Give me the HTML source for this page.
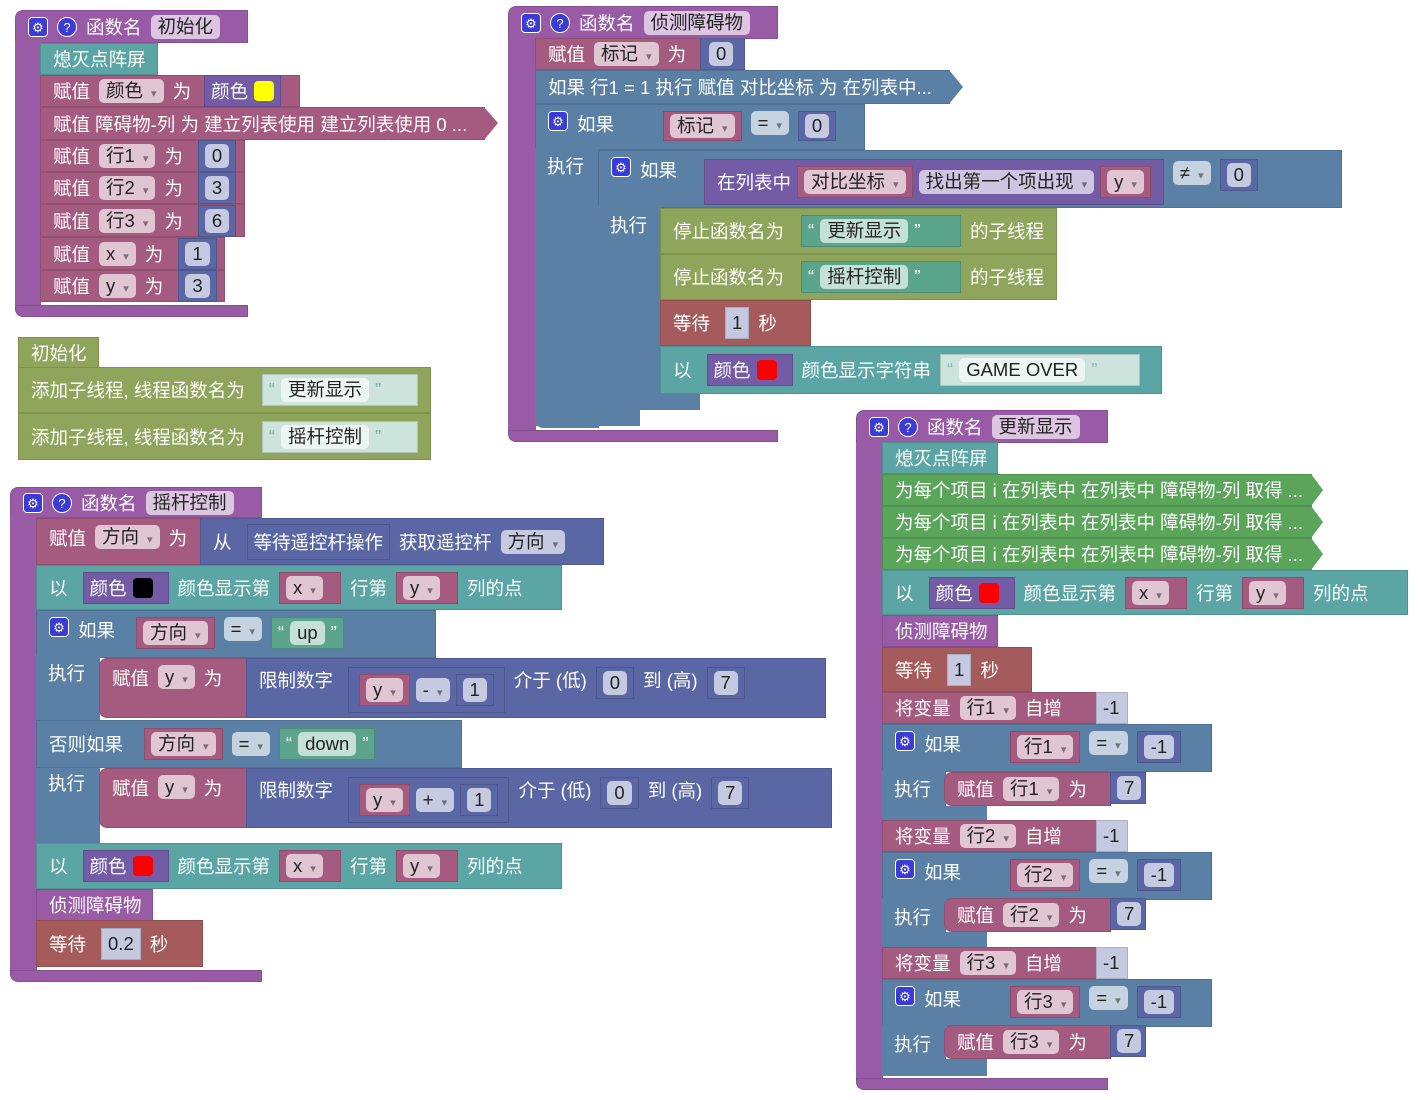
<!DOCTYPE html>
<html><head><meta charset="utf-8"><style>
body{margin:0;width:1418px;height:1100px;background:#fff;position:relative;overflow:hidden;font-family:"Liberation Sans","Noto Sans CJK SC",sans-serif}
.r{position:absolute;display:flex;align-items:center;padding-left:12px;box-sizing:border-box;white-space:nowrap;color:#fff;font-size:18.5px;gap:9px;border:1px solid rgba(0,0,0,.12)}
.t{align-items:flex-start;padding-top:6px}
.v{display:inline-flex;align-items:center;height:32px;padding:0 6px;gap:6px;color:#fff;border:1px solid rgba(0,0,0,.15);box-sizing:border-box}
.f{background:rgba(255,255,255,.65);color:#222;border-radius:5px;padding:0 7px;height:24px;line-height:24px;display:inline-block}
.d::after{content:"\25BE";font-size:11px;color:rgba(0,0,0,.45);margin-left:8px}
.ic{display:inline-block;width:20px;height:20px;border-radius:4px;background:#3b3bd6;border:1px solid #fff;color:#fff;font-size:13px;text-align:center;line-height:20px;box-sizing:border-box}
.q{border-radius:50%}
.sw{display:inline-block;width:20px;height:20px;border-radius:4px}
.P{background:#995ba5}.V{background:#a55b80}.N{background:#5b67a5}.T{background:#5ba5a5}.C{background:#5b80a5}.G{background:#8fa55b}.S{background:#5ba58c}.W{background:#a55b5b}.L{background:#5ba55b}.K{background:#745ba5}
.sh{background:#c4c9e0;color:#222}
</style></head><body>

<!-- Block 1 初始化 -->
<div class="r P" style="left:15px;top:10px;width:233px;height:33px;border-radius:8px 0 0 0"><span class="ic">⚙</span><span class="ic q">?</span> 函数名 <span class="f">初始化</span></div>
<div class="r P" style="left:15px;top:42px;width:26px;height:265px;border:none"></div>
<div class="r P" style="left:15px;top:305px;width:233px;height:12px;border-radius:0 0 0 8px"></div>
<div class="r T" style="left:40px;top:43px;width:118px;height:32px">熄灭点阵屏</div>
<div class="r V" style="left:40px;top:75px;width:260px;height:32px">赋值 <span class="f d">颜色</span> 为 <span class="v K" style="margin-left:4px;height:32px">颜色 <span class="sw" style="background:#ff0"></span></span></div>
<div class="r V" style="left:40px;top:107px;width:445px;height:33px">赋值 障碍物-列 为 建立列表使用 建立列表使用 0 ...</div>
<div style="position:absolute;left:484px;top:107px;width:0;height:0;border-top:16px solid transparent;border-bottom:17px solid transparent;border-left:14px solid #a55b80"></div>
<div class="r V" style="left:40px;top:140px;width:205px;height:32px">赋值 <span class="f d">行1</span> 为 <span class="v N" style="margin-left:6px"><span class="f">0</span></span></div>
<div class="r V" style="left:40px;top:172px;width:205px;height:32px">赋值 <span class="f d">行2</span> 为 <span class="v N" style="margin-left:6px"><span class="f">3</span></span></div>
<div class="r V" style="left:40px;top:204px;width:205px;height:33px">赋值 <span class="f d">行3</span> 为 <span class="v N" style="margin-left:6px"><span class="f">6</span></span></div>
<div class="r V" style="left:40px;top:237px;width:185px;height:33px">赋值 <span class="f d">x</span> 为 <span class="v N" style="margin-left:6px"><span class="f">1</span></span></div>
<div class="r V" style="left:40px;top:270px;width:185px;height:32px">赋值 <span class="f d">y</span> 为 <span class="v N" style="margin-left:6px"><span class="f">3</span></span></div>

<!-- Block 2 -->
<div class="r G" style="left:18px;top:337px;width:81px;height:31px">初始化</div>
<div class="r G" style="left:18px;top:367px;width:413px;height:46px">添加子线程, 线程函数名为 <span class="v S" style="background:#cde4dc;color:#7aa;margin-left:8px;width:156px">“ <span class="f">更新显示</span> ”</span></div>
<div class="r G" style="left:18px;top:413px;width:413px;height:47px">添加子线程, 线程函数名为 <span class="v S" style="background:#cde4dc;color:#7aa;margin-left:8px;width:156px">“ <span class="f">摇杆控制</span> ”</span></div>

<!-- Block 3 摇杆控制 -->
<div class="r P" style="left:10px;top:487px;width:252px;height:31px;border-radius:8px 0 0 0"><span class="ic">⚙</span><span class="ic q">?</span> 函数名 <span class="f">摇杆控制</span></div>
<div class="r P" style="left:10px;top:517px;width:27px;height:455px;border:none"></div>
<div class="r P" style="left:10px;top:970px;width:252px;height:12px;border-radius:0 0 0 8px"></div>
<div class="r V t" style="left:36px;top:518px;width:165px;height:47px">赋值 <span class="f d">方向</span> 为</div>
<div class="r N" style="left:200px;top:518px;width:404px;height:47px">从 <span class="v N" style="margin-left:6px;height:36px">等待遥控杆操作</span> 获取遥控杆 <span class="f d">方向</span></div>
<div class="r T" style="left:36px;top:565px;width:526px;height:45px">以 <span class="v K" style="margin-left:6px;width:86px">颜色 <span class="sw" style="background:#000"></span></span> 颜色显示第 <span class="v V" style="width:62px"><span class="f d">x</span></span> 行第 <span class="v V" style="width:62px"><span class="f d">y</span></span> 列的点</div>
<div class="r C t" style="left:36px;top:610px;width:400px;height:48px"><span class="ic">⚙</span> 如果 <span class="v V" style="margin-left:12px"><span class="f d">方向</span></span><span class="f d">=</span><span class="v S">“ <span class="f">up</span> ”</span></div>
<div class="r C" style="left:36px;top:655px;width:64px;height:190px;border:none"></div>
<div style="position:absolute;left:48px;top:660px;color:#fff;font-size:18.5px">执行</div>
<div class="r V t" style="left:99px;top:658px;width:148px;height:60px;border-radius:8px 0 0 8px">赋值 <span class="f d">y</span> 为</div>
<div class="r N" style="left:246px;top:658px;width:580px;height:60px;align-items:flex-start;padding-top:8px">限制数字 <span class="v N" style="height:46px;margin-left:6px;padding:0 10px"><span class="v V"><span class="f d">y</span></span><span class="f d">-</span><span class="v N"><span class="f">1</span></span></span> 介于 (低) <span class="v N"><span class="f">0</span></span> 到 (高) <span class="v N"><span class="f">7</span></span></div>
<div class="r C" style="left:36px;top:720px;width:426px;height:48px">否则如果 <span class="v V" style="margin-left:12px"><span class="f d">方向</span></span><span class="f d">=</span><span class="v S">“ <span class="f">down</span> ”</span></div>
<div style="position:absolute;left:48px;top:770px;color:#fff;font-size:18.5px">执行</div>
<div class="r V t" style="left:99px;top:768px;width:148px;height:60px;border-radius:8px 0 0 8px">赋值 <span class="f d">y</span> 为</div>
<div class="r N" style="left:246px;top:768px;width:586px;height:60px;align-items:flex-start;padding-top:8px">限制数字 <span class="v N" style="height:46px;margin-left:6px;padding:0 10px"><span class="v V"><span class="f d">y</span></span><span class="f d">+</span><span class="v N"><span class="f">1</span></span></span> 介于 (低) <span class="v N"><span class="f">0</span></span> 到 (高) <span class="v N"><span class="f">7</span></span></div>
<div class="r T" style="left:36px;top:843px;width:526px;height:46px">以 <span class="v K" style="margin-left:6px;width:86px">颜色 <span class="sw" style="background:#f00"></span></span> 颜色显示第 <span class="v V" style="width:62px"><span class="f d">x</span></span> 行第 <span class="v V" style="width:62px"><span class="f d">y</span></span> 列的点</div>
<div class="r P" style="left:36px;top:889px;width:117px;height:32px">侦测障碍物</div>
<div class="r W" style="left:36px;top:920px;width:167px;height:47px">等待 <span class="v sh" style="margin-left:6px">0.2</span> 秒</div>

<!-- Block 4 侦测障碍物 -->
<div class="r P" style="left:508px;top:6px;width:270px;height:33px;border-radius:8px 0 0 0"><span class="ic">⚙</span><span class="ic q">?</span> 函数名 <span class="f">侦测障碍物</span></div>
<div class="r P" style="left:508px;top:38px;width:28px;height:395px;border:none"></div>
<div class="r P" style="left:508px;top:430px;width:270px;height:12px;border-radius:0 0 0 8px"></div>
<div class="r V" style="left:535px;top:38px;width:166px;height:32px">赋值 <span class="f d">标记</span> 为</div>
<div class="r N" style="left:700px;top:38px;width:45px;height:32px;padding-left:8px"><span class="f">0</span></div>
<div class="r C" style="left:535px;top:70px;width:415px;height:34px">如果 行1 = 1 执行 赋值 对比坐标 为 在列表中...</div>
<div style="position:absolute;left:949px;top:70px;width:0;height:0;border-top:17px solid transparent;border-bottom:17px solid transparent;border-left:14px solid #5b80a5"></div>
<div class="r C t" style="left:535px;top:104px;width:330px;height:46px"><span class="ic">⚙</span> 如果 <span class="v V" style="margin-left:40px;height:30px"><span class="f d">标记</span></span><span class="f d">=</span><span class="v N" style="height:30px"><span class="f">0</span></span></div>
<div class="r C" style="left:535px;top:148px;width:64px;height:280px;border:none;border-radius:0 0 0 8px"></div>
<div style="position:absolute;left:547px;top:153px;color:#fff;font-size:18.5px">执行</div>
<div class="r C t" style="left:598px;top:150px;width:744px;height:58px"><span class="ic">⚙</span> 如果 <span class="v K" style="margin-left:18px;height:46px;margin-top:2px;padding:0 12px">在列表中 <span class="v V"><span class="f d">对比坐标</span></span><span class="f d">找出第一个项出现</span><span class="v V"><span class="f d">y</span></span></span><span class="f d" style="margin-top:4px">≠</span><span class="v N" style="margin-top:2px"><span class="f">0</span></span></div>
<div class="r C" style="left:598px;top:205px;width:63px;height:205px;border:none;border-radius:0 0 0 8px"></div>
<div style="position:absolute;left:610px;top:212px;color:#fff;font-size:18.5px">执行</div>
<div class="r C" style="left:598px;top:394px;width:102px;height:16px;border:none"></div>
<div class="r C" style="left:535px;top:410px;width:105px;height:16px;border:none"></div>
<div class="r G" style="left:660px;top:208px;width:397px;height:46px">停止函数名为 <span class="v S" style="margin-left:8px;width:160px">“ <span class="f">更新显示</span> ”</span> 的子线程</div>
<div class="r G" style="left:660px;top:254px;width:397px;height:46px">停止函数名为 <span class="v S" style="margin-left:8px;width:160px">“ <span class="f">摇杆控制</span> ”</span> 的子线程</div>
<div class="r W" style="left:660px;top:300px;width:151px;height:46px">等待 <span class="v sh" style="margin-left:6px">1</span> 秒</div>
<div class="r T" style="left:660px;top:346px;width:502px;height:48px">以 <span class="v K" style="margin-left:6px;width:86px">颜色 <span class="sw" style="background:#f00"></span></span> 颜色显示字符串 <span class="v" style="background:#cde4dc;color:#8bb;width:200px">“ <span class="f">GAME OVER</span> ”</span></div>

<!-- Block 5 更新显示 -->
<div class="r P" style="left:856px;top:410px;width:252px;height:33px;border-radius:8px 0 0 0"><span class="ic">⚙</span><span class="ic q">?</span> 函数名 <span class="f">更新显示</span></div>
<div class="r P" style="left:856px;top:442px;width:27px;height:640px;border:none"></div>
<div class="r P" style="left:856px;top:1078px;width:252px;height:12px;border-radius:0 0 0 8px"></div>
<div class="r T" style="left:882px;top:442px;width:116px;height:32px">熄灭点阵屏</div>
<div class="r L" style="left:882px;top:474px;width:430px;height:32px">为每个项目 i 在列表中 在列表中 障碍物-列 取得 ...</div>
<div class="r L" style="left:882px;top:506px;width:430px;height:32px">为每个项目 i 在列表中 在列表中 障碍物-列 取得 ...</div>
<div class="r L" style="left:882px;top:538px;width:430px;height:32px">为每个项目 i 在列表中 在列表中 障碍物-列 取得 ...</div>
<div style="position:absolute;left:1311px;top:474px;width:0;height:0;border-top:16px solid transparent;border-bottom:16px solid transparent;border-left:12px solid #5ba55b"></div>
<div style="position:absolute;left:1311px;top:506px;width:0;height:0;border-top:16px solid transparent;border-bottom:16px solid transparent;border-left:12px solid #5ba55b"></div>
<div style="position:absolute;left:1311px;top:538px;width:0;height:0;border-top:16px solid transparent;border-bottom:16px solid transparent;border-left:12px solid #5ba55b"></div>
<div class="r T" style="left:882px;top:570px;width:526px;height:45px">以 <span class="v K" style="margin-left:6px;width:86px">颜色 <span class="sw" style="background:#f00"></span></span> 颜色显示第 <span class="v V" style="width:62px"><span class="f d">x</span></span> 行第 <span class="v V" style="width:62px"><span class="f d">y</span></span> 列的点</div>
<div class="r P" style="left:882px;top:615px;width:116px;height:32px">侦测障碍物</div>
<div class="r W" style="left:882px;top:647px;width:150px;height:45px">等待 <span class="v sh" style="margin-left:6px">1</span> 秒</div>

<div class="r V" style="left:882px;top:692px;width:215px;height:32px">将变量 <span class="f d">行1</span> 自增</div>
<div class="r" style="left:1096px;top:692px;width:32px;height:32px;background:#c4c9e0;color:#222;padding-left:6px">-1</div>
<div class="r C t" style="left:882px;top:724px;width:330px;height:48px"><span class="ic">⚙</span> 如果 <span class="v V" style="margin-left:40px"><span class="f d">行1</span></span><span class="f d">=</span><span class="v N"><span class="f">-1</span></span></div>
<div class="r C" style="left:882px;top:770px;width:64px;height:50px;border:none"></div>
<div style="position:absolute;left:894px;top:776px;color:#fff;font-size:18.5px">执行</div>
<div class="r V" style="left:944px;top:772px;width:167px;height:34px;border-radius:8px 0 0 8px">赋值 <span class="f d">行1</span> 为</div>
<div class="r N" style="left:1110px;top:772px;width:36px;height:32px;padding-left:6px"><span class="f">7</span></div>
<div class="r C" style="left:882px;top:806px;width:105px;height:14px;border:none"></div>

<div class="r V" style="left:882px;top:820px;width:215px;height:32px">将变量 <span class="f d">行2</span> 自增</div>
<div class="r" style="left:1096px;top:820px;width:32px;height:32px;background:#c4c9e0;color:#222;padding-left:6px">-1</div>
<div class="r C t" style="left:882px;top:852px;width:330px;height:48px"><span class="ic">⚙</span> 如果 <span class="v V" style="margin-left:40px"><span class="f d">行2</span></span><span class="f d">=</span><span class="v N"><span class="f">-1</span></span></div>
<div class="r C" style="left:882px;top:898px;width:64px;height:50px;border:none"></div>
<div style="position:absolute;left:894px;top:904px;color:#fff;font-size:18.5px">执行</div>
<div class="r V" style="left:944px;top:898px;width:167px;height:34px;border-radius:8px 0 0 8px">赋值 <span class="f d">行2</span> 为</div>
<div class="r N" style="left:1110px;top:898px;width:36px;height:32px;padding-left:6px"><span class="f">7</span></div>
<div class="r C" style="left:882px;top:932px;width:105px;height:15px;border:none"></div>

<div class="r V" style="left:882px;top:947px;width:215px;height:32px">将变量 <span class="f d">行3</span> 自增</div>
<div class="r" style="left:1096px;top:947px;width:32px;height:32px;background:#c4c9e0;color:#222;padding-left:6px">-1</div>
<div class="r C t" style="left:882px;top:979px;width:330px;height:48px"><span class="ic">⚙</span> 如果 <span class="v V" style="margin-left:40px"><span class="f d">行3</span></span><span class="f d">=</span><span class="v N"><span class="f">-1</span></span></div>
<div class="r C" style="left:882px;top:1025px;width:64px;height:50px;border:none"></div>
<div style="position:absolute;left:894px;top:1031px;color:#fff;font-size:18.5px">执行</div>
<div class="r V" style="left:944px;top:1025px;width:167px;height:34px;border-radius:8px 0 0 8px">赋值 <span class="f d">行3</span> 为</div>
<div class="r N" style="left:1110px;top:1025px;width:36px;height:32px;padding-left:6px"><span class="f">7</span></div>
<div class="r C" style="left:882px;top:1059px;width:105px;height:17px;border:none"></div>
</body></html>
